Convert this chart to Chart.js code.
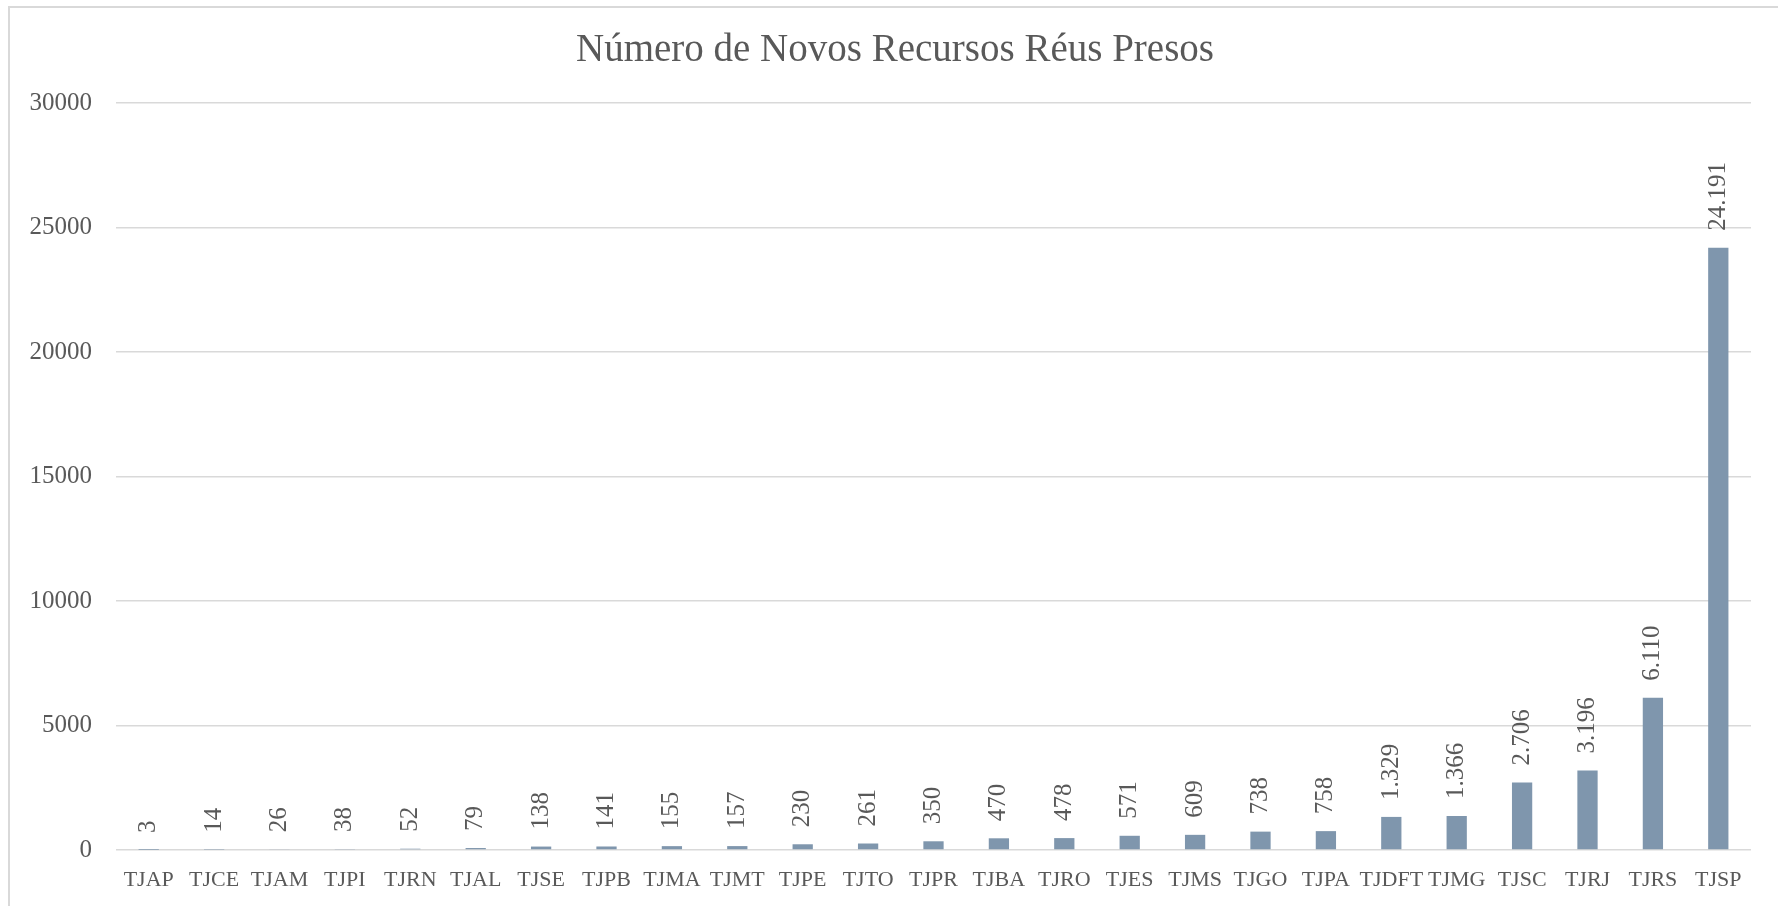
<!DOCTYPE html>
<html>
<head>
<meta charset="utf-8">
<script src="https://cdn.jsdelivr.net/npm/chart.js@4"></script>
<style>
    html, body { margin: 0; padding: 0; background: #fff; overflow: hidden; }
    #wrap { position: relative; width: 1778px; height: 906px; }
    #frame {
        position: absolute; left: 8px; top: 6px;
        width: 1800px; height: 1000px;
        border: 2px solid #d9d9d9;
    }
    #chart { position: absolute; left: 0; top: 0; }
</style>
</head>
<body>
<div id="wrap">
    <div id="frame"></div>
    <canvas id="chart" width="1778" height="906"></canvas>
</div>
<script>
// Tribunais (ordem do gráfico)
const categories = ['TJAP', 'TJCE', 'TJAM', 'TJPI', 'TJRN', 'TJAL', 'TJSE', 'TJPB', 'TJMA', 'TJMT',
    'TJPE', 'TJTO', 'TJPR', 'TJBA', 'TJRO', 'TJES', 'TJMS', 'TJGO', 'TJPA', 'TJDFT',
    'TJMG', 'TJSC', 'TJRJ', 'TJRS', 'TJSP'];

// Novos recursos réus presos
const recursos = [3, 14, 26, 38, 52, 79, 138, 141, 155, 157,
    230, 261, 350, 470, 478, 571, 609, 738, 758, 1329,
    1366, 2706, 3196, 6110, 24191];

const yTicks = [0, 5000, 10000, 15000, 20000, 25000, 30000];

const chartTitle = 'Número de Novos Recursos Réus Presos';

const FONT = "'Liberation Serif', 'Times New Roman', serif";
const TEXT_COLOR = '#595959';

function formatBR(v) {
    return String(v).replace(/\B(?=(\d{3})+(?!\d))/g, '.');
}

// title drawn centred on the outer frame (not on the padded layout box)
const frameTitle = {
    id: 'frameTitle',
    afterDraw(chart) {
        const ctx = chart.ctx;
        ctx.save();
        ctx.font = '39px ' + FONT;
        ctx.fillStyle = TEXT_COLOR;
        ctx.textAlign = 'center';
        ctx.textBaseline = 'middle';
        ctx.fillText(chartTitle, 895, 51);
        ctx.restore();
    }
};

// rotated value labels above each bar
const valueLabels = {
    id: 'valueLabels',
    afterDatasetsDraw(chart) {
        const ctx = chart.ctx;
        const meta = chart.getDatasetMeta(0);
        ctx.save();
        ctx.font = '25px ' + FONT;
        ctx.fillStyle = TEXT_COLOR;
        ctx.textAlign = 'left';
        ctx.textBaseline = 'middle';
        meta.data.forEach((bar, i) => {
            ctx.save();
            ctx.translate(bar.x, bar.y - 17);
            ctx.rotate(-Math.PI / 2);
            ctx.fillText(formatBR(recursos[i]), 0, 0);
            ctx.restore();
        });
        ctx.restore();
    }
};

const ctx = document.getElementById('chart').getContext('2d');
new Chart(ctx, {
    type: 'bar',
    data: {
        labels: categories,
        datasets: [{
            data: recursos,
            backgroundColor: '#7f96ad',
            borderWidth: 0,
            categoryPercentage: 1,
            barPercentage: 0.31
        }]
    },
    options: {
        responsive: false,
        animation: false,
        layout: { padding: { top: 103, left: 0, right: 27, bottom: 12 } },
        plugins: {
            legend: { display: false },
            tooltip: { enabled: false },
            title: { display: false }
        },
        scales: {
            x: {
                afterFit(scale) { scale.height = 44; },
                grid: { display: false },
                border: { display: false },
                ticks: {
                    color: TEXT_COLOR,
                    font: { family: FONT, size: 22 },
                    padding: 9,
                    maxRotation: 0,
                    minRotation: 0,
                    autoSkip: false
                }
            },
            y: {
                min: 0,
                max: 30000,
                afterFit(scale) { scale.width = 116; },
                afterBuildTicks(scale) {
                    scale.ticks = yTicks.map(v => ({ value: v }));
                },
                grid: { color: '#d9d9d9', lineWidth: 1.5, drawTicks: false },
                border: { display: false },
                ticks: {
                    color: TEXT_COLOR,
                    font: { family: FONT, size: 25 },
                    padding: 24,
                    callback: v => String(v)
                }
            }
        }
    },
    plugins: [valueLabels, frameTitle]
});
</script>
</body>
</html>
